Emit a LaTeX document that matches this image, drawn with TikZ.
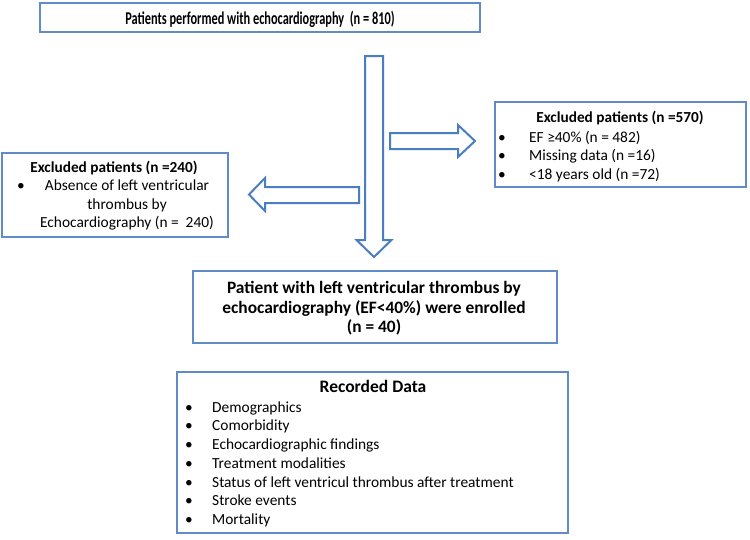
\documentclass[tikz,border=0pt]{standalone}
\usepackage{fontspec}
\setmainfont{Carlito}
\begin{document}
\begin{tikzpicture}[x=1pt,y=-1pt,
  boxline/.style={draw={rgb,255:red,96;green,138;blue,200}, line width=1.1pt, inner sep=0pt},
  blockarrow/.style={draw={rgb,255:red,74;green,126;blue,193}, line width=2pt, line join=miter, fill=white},
  body/.style={font=\fontsize{15.4}{18}\selectfont, inner sep=0pt, anchor=base},
  bodyl/.style={body, anchor=base west},
  btitle/.style={font=\fontsize{15.3}{18}\selectfont\bfseries, inner sep=0pt, anchor=base},
  bul/.style={body, anchor=base},
  midtext/.style={font=\fontsize{17.4}{20}\selectfont\bfseries, inner sep=0pt, anchor=base}
]
\useasboundingbox (0,0) rectangle (750,539);
\fill[white] (0,0) rectangle (750,539);

% boxes
\node[boxline, minimum width=440pt, minimum height=29pt] (topbox) at (260,17.5) {};
\node[boxline, minimum width=251pt, minimum height=85pt] (rbox) at (620.5,144.5) {};
\node[boxline, minimum width=226pt, minimum height=84pt] (lbox) at (115,195) {};
\node[boxline, minimum width=364pt, minimum height=72pt] (mbox) at (375,307) {};
\node[boxline, minimum width=391pt, minimum height=161pt] (rec) at (372.5,452.5) {};

% top title (horizontally condensed, as in the reference)
\node[font=\fontsize{18}{21}\selectfont\bfseries, inner sep=0pt, anchor=base, xscale=0.685] (t1) at (260,24) {Patients performed with echocardiography\ \ (n = 810)};

% right box
\node[btitle] (r0) at (620,122) {Excluded patients (n =570)};
\node[bul] (rb1) at (502,142) {•};
\node[bodyl] (r1) at (529,142) {EF ≥40\% (n = 482)};
\node[bul] (rb2) at (502,160.5) {•};
\node[bodyl] (r2) at (529,160.5) {Missing data (n =16)};
\node[bul] (rb3) at (502,179) {•};
\node[bodyl] (r3) at (529,179) {<18 years old (n =72)};

% left box
\node[btitle] (l0) at (114,172) {Excluded patients (n =240)};
\node[bul] (lb1) at (21,190.5) {•};
\node[body] (l1) at (127,190.5) {Absence of left ventricular};
\node[body] (l2) at (127,209) {thrombus by};
\node[body] (l3) at (127,227.5) {Echocardiography\ (n =\ \ 240)};

% middle box
\node[midtext] (m1) at (374,293.7) {Patient with left ventricular thrombus by};
\node[midtext] (m2) at (374,313.2) {echocardiography (EF<40\%) were enrolled};
\node[midtext] (m3) at (374,332.7) {(n = 40)};

% recorded data
\node[font=\fontsize{17.5}{20}\selectfont\bfseries, inner sep=0pt, anchor=base] (rd0) at (373,392.7) {Recorded Data};
\foreach \t [count=\i] in {Demographics,Comorbidity,Echocardiographic findings,Treatment modalities,Status of left ventricul thrombus after treatment,Stroke events,Mortality}{
  \node[bul] (rdb\i) at (189,{393.5+18.7*\i}) {•};
  \node[bodyl] (rd\i) at (212,{393.5+18.7*\i}) {\t};
}

% block arrows
\draw[blockarrow] (365,56) -- (383,56) -- (383,240) -- (391.5,240) -- (374,257) -- (356.5,240) -- (365,240) -- cycle;
\draw[blockarrow] (390,133) -- (458,133) -- (458,125) -- (475,141) -- (458,157) -- (458,149) -- (390,149) -- cycle;
\draw[blockarrow] (359,187) -- (265,187) -- (265,178) -- (249,194.5) -- (265,211) -- (265,203) -- (359,203) -- cycle;
\end{tikzpicture}
\end{document}
